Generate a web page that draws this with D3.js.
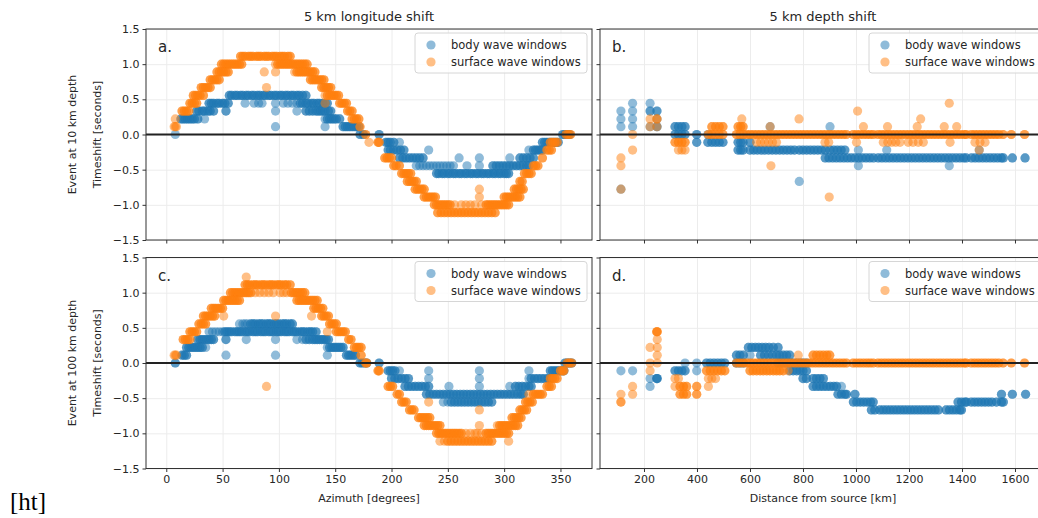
<!DOCTYPE html>
<html lang="en">
  <head>
    <meta charset="utf-8">
    <title></title>
    <script src="https://cdn.jsdelivr.net/npm/d3@7"></script>
    <style>
      body { margin:0; background:#fff; }
      text { font-family:"DejaVu Sans", sans-serif; fill:#262626; }
      .grid line { stroke:#ececec; stroke-width:1; }
      .grid path { display:none; }
      .axis path { display:none; }
      .axis line { stroke:#333; }
      .axis text { font-size:11px; fill:#262626; }
      .spine { fill:none; stroke:#333; stroke-width:1; }
    </style>
  </head>
  <body>
    <script>
      var W = 1038, H = 518;

      var azTicks = [0, 50, 100, 150, 200, 250, 300, 350];
      var kmTicks = [200, 400, 600, 800, 1000, 1200, 1400, 1600];
      var shiftTicks = [-1.5, -1.0, -0.5, 0, 0.5, 1.0, 1.5];
      var seriesNames = ["body wave windows", "surface wave windows"];
      var colors = ["#1f77b4", "#ff7f0e"];
      var colTitles = ["5 km longitude shift", "5 km depth shift"];
      var rowLabels = ["Event at 10 km depth", "Event at 100 km depth"];
      var xLabels = ["Azimuth [degrees]", "Distance from source [km]"];
      var panelLetters = ["a.", "b.", "c.", "d."];

      // each entry: [timeshift, [x of stations], windows per station (default 1)]
      var bodyA = [
        [0.556, [56,58,61,63,66,68,71,73,76,78,81,83,86,88,91,93,96,98,101,103,106,108,111,113,116,118,121,124], 2],
        [0.444, [38,40,42,45,47,50,52,55], 2],
        [0.444, [70,78,82,85,97,104,108,112,116]],
        [0.444, [119,121,124,126,129,131,134,136,139,141,143], 2],
        [0.333, [27,29,32,34,37,39,42,53], 2],
        [0.333, [97,116]],
        [0.333, [124,127,130,133,135,137,139,141,144,146], 2],
        [0.222, [13,15,17,19,21,23,25,28], 2],
        [0.222, [34,141]],
        [0.222, [143,145,147,149,151,154], 2],
        [0.111, [97,141]],
        [0.111, [157,159,161,163,165,167,169,171], 2],
        [0, [8]],
        [0, [172,175,189,352,354,356,358], 2],
        [-0.111, [195,197,199,202], 2],
        [-0.111, [207]],
        [-0.111, [334,336,338,340,342,344,346,348], 2],
        [-0.222, [197,199,202,205,208,211], 2],
        [-0.222, [233,322]],
        [-0.222, [326,328,330,332,334], 2],
        [-0.333, [207,210,213,216,219,222,225,228], 2],
        [-0.333, [260,278,305]],
        [-0.333, [314,317,320,323,326], 2],
        [-0.444, [222,225,228,231,234,237,240,243,246,249,252,255,267,278]],
        [-0.444, [290,293,296,299,302,305,308,311,314,317,320,322], 2],
        [-0.556, [240,242,245,247,250,252,255,257,260,262,265,267,270,272,275,277,280,282,285,287,290,292,295,297,300,302,304], 2]
      ];
      var surfA = [
        [1.111, [66,68,70,73,75,77,80,82,84,87,89,91,94,96,98,101,103,105,108,110], 2],
        [1.0, [49,51,53,55,57,59,61,63,65,67], 2],
        [1.0, [97]],
        [1.0, [99,101,103,105,107,109,111,113,115,117,119,121,123,125], 2],
        [0.889, [45,47,49,51,53,55], 2],
        [0.889, [87,97,114]],
        [0.889, [116,118,120,122,124,126,128,130,132], 2],
        [0.778, [39,41,43,45,47,128,130,132,134,136,138,140], 2],
        [0.667, [31,33,35,37,39,138,140,142,144,146], 2],
        [0.667, [89]],
        [0.556, [24,26,28,30,33,143,145,147,149,151,153], 2],
        [0.556, [141]],
        [0.444, [21,23,25,27,154,156,158,160], 2],
        [0.444, [141]],
        [0.333, [14,16,18,20,161,163,165], 2],
        [0.222, [8]],
        [0.222, [165,167,169,171], 2],
        [0.111, [7,8,9]],
        [0.111, [172], 2],
        [0, [177,355,357,359], 2],
        [-0.111, [180]],
        [-0.111, [188,189,341,343,345,347], 2],
        [-0.222, [338,340,342], 2],
        [-0.333, [194,196,198,200,334], 2],
        [-0.444, [202,204,207,326,328,330], 2],
        [-0.556, [209,211,213,215,217,318,320,322,324], 2],
        [-0.667, [214,216,218,220,222,314,316], 2],
        [-0.778, [221,223,225,227,229,309,311,313,315,317], 2],
        [-0.778, [278]],
        [-0.889, [229,231,233,235,237,239,300,302,304,306,308,310,312,314], 2],
        [-0.889, [278]],
        [-1.0, [238,240,242,244,246,248,250,252], 2],
        [-1.0, [256,262,266,270,274,280]],
        [-1.0, [284,286,288,290,292,294,296,298,300,302,304], 2],
        [-1.111, [241,244,247,250,253,256,259,262,265,268,271,274,277,280,283,286,289,292], 2]
      ];

      var bodyB = [
        [0.444, [157,223]],
        [0.333, [113,157]],
        [0.333, [223,249], 2],
        [0.222, [113,157,249]],
        [0.111, [113,157,223,676,902]],
        [0.111, [249,317,330,343,355], 2],
        [0, [317,330,343,355,399], 2],
        [0, [441]],
        [-0.111, [399,441,456,470,484,498,555,565,574,600], 2],
        [-0.222, [555,565,574,600,614,628,642,656,670,684,698,712,726,740,754,768,786,800,814,828,842,856,870,884,902,916,930,944,958], 2],
        [-0.222, [1009,1116,1465]],
        [-0.333, [884,898,912,926,940,954,968,982,996,1010,1024,1038,1052,1066,1084,1098,1112,1126,1140,1154,1168,1182,1196,1210,1224,1238,1252,1266,1280,1294,1308,1322,1336,1350,1364,1378,1392,1406,1416,1436,1450,1464,1478,1492,1506,1520,1534,1548,1556,1590,1638], 2],
        [-0.444, [1009,1352]],
        [-0.667, [786]],
        [-0.778, [113]]
      ];
      var surfB = [
        [0.444, [1352]],
        [0.333, [1006]],
        [0.222, [223,569,785,1244]],
        [0.222, [249], 2],
        [0.111, [223,249,676,1028,1119,1231,1333,1380]],
        [0.111, [456,470,484,498,555,565,574], 2],
        [0, [157]],
        [0, [443,456,470,484,498,549,562,575,588,601,614,627,640,653,666,679,692,705,718,731,744,757,770,783,796,809,822,835,848,861,874,887,900,913,926,939,952,964,989,1002,1015,1028,1041,1053,1065,1083,1096,1109,1122,1135,1148,1161,1174,1187,1200,1213,1226,1239,1252,1265,1278,1291,1304,1317,1330,1343,1356,1369,1382,1395,1408,1416,1435,1448,1461,1474,1487,1500,1513,1526,1539,1555,1586,1636], 2],
        [-0.111, [317,330,343,355], 2],
        [-0.111, [625,640,655,670,685,700,883,897,1002,1103,1120,1135,1150,1166,1197,1215,1235,1254,1355,1449,1468,1487]],
        [-0.222, [157,330,343,355,1465]],
        [-0.333, [113]],
        [-0.444, [113,679]],
        [-0.778, [113]],
        [-0.889, [899]]
      ];

      var bodyC = [
        [0.556, [65,68,70,72]],
        [0.556, [75,77,79,82,84,86,89,91,93,96,98,100,103,105,107,110,112], 2],
        [0.444, [38,41,44,47,50]],
        [0.444, [52,54,56,58,61,63,65,67,70,72,74,77,79,81,84,86,88,91,93,95,98,100,102,105,107,109,112,114,116,119,121,123,126,128,130,133], 2],
        [0.333, [28,30,32,34,36,38,40,42,53], 2],
        [0.333, [71,97,116,121]],
        [0.333, [124,127,130,132,134,136,138,140,142,144], 2],
        [0.222, [18,20,22,24,26,28,30,32], 2],
        [0.222, [35,143]],
        [0.222, [145,147,149,151,153,155,157], 2],
        [0.111, [14,16,18], 2],
        [0.111, [53,97,143]],
        [0.111, [160,162,164,166,168], 2],
        [0, [8,172,174,176,178,189,354,356,358,360], 2],
        [-0.111, [197,199,201,203], 2],
        [-0.111, [207,233,278,322]],
        [-0.111, [341,343,345,347,349,351,353], 2],
        [-0.222, [200,203,206,209,212,215], 2],
        [-0.222, [233,278,322]],
        [-0.222, [324,327,330,333,336,339,341], 2],
        [-0.333, [212,215,218,221,224,227,230,233], 2],
        [-0.333, [251,278,305]],
        [-0.333, [310,313,316,319,322,324], 2],
        [-0.444, [231,234,237,240,243,246,249,252,255,258,261,264,267,270,273,276,279,282,285,288,291,294,297,300,303,306,309,312,315,317], 2],
        [-0.556, [246,250]],
        [-0.556, [253,256,259,262,265,268,271,274,277,280,283,286,289], 2]
      ];
      var surfC = [
        [1.222, [71]],
        [1.111, [70,72,74,77,79,81,84,86,88,91,93,95,98,100,102,105,107,110], 2],
        [1.0, [57,59,61,63,65,67,69,71,73,75], 2],
        [1.0, [79,83,87,91,95,101,104,107]],
        [1.0, [111,113,115,117,119,121,123], 2],
        [0.889, [51,53,55,57,59,61,63,65,116,118,120,122,124,126,128,130,132,134], 2],
        [0.778, [40,42,44,46,48,50,131,133,135,137,139], 2],
        [0.667, [33,35,37,39,41,43,138,140,142,144], 2],
        [0.667, [51,97,129]],
        [0.556, [29,31,33,35,145,147,149,151], 2],
        [0.444, [21,23,25,27,151,153,155,157,159], 2],
        [0.444, [143]],
        [0.333, [15,17,19,21,162,164], 2],
        [0.222, [167,169,171,173], 2],
        [0.111, [7,8,9]],
        [0.111, [173], 2],
        [0, [177,178,356,358,360], 2],
        [-0.111, [188,189,350,352,353], 2],
        [-0.222, [341,343,345,347], 2],
        [-0.333, [89]],
        [-0.333, [197,199,201,338,340,342], 2],
        [-0.444, [205,207,326,328,330,332,334], 2],
        [-0.444, [322]],
        [-0.556, [209,211,213,319,321,323,325], 2],
        [-0.556, [233]],
        [-0.667, [216,218,220,314,316,318,320], 2],
        [-0.667, [278]],
        [-0.778, [224,226,228,230,232,234,307,309,311,313,315], 2],
        [-0.889, [229,231,233,235,237,239,241,243,296,298,300,302,304,306,308,310,312], 2],
        [-0.889, [278,294]],
        [-1.0, [240,242,244,246,248,250,252,254,256,258,260,262], 2],
        [-1.0, [266,270,274,276,280]],
        [-1.0, [284,286,288,290,292,294,296,298,300,302,304], 2],
        [-1.111, [243,247,304]],
        [-1.111, [250,253,256,259,262,265,268,271,274,277,280,283,286,289], 2]
      ];

      var bodyD = [
        [0.222, [594,607,620,633,646,659,672,688,706], 2],
        [0.111, [549,562,575,640,655,670,685,700,712,725,738,750], 2],
        [0.111, [600]],
        [0, [355,399]],
        [0, [436,450,464,478,492,505,549,562,575,706,719,732,750,763,776,789,800,813], 2],
        [-0.111, [113,157,399]],
        [-0.111, [317,330,343,355,750,763,776,789,800,813], 2],
        [-0.222, [223]],
        [-0.222, [248,250,800,813,838,851,864,877], 2],
        [-0.333, [223,945]],
        [-0.333, [838,851,864,877,890,903,916,927], 2],
        [-0.444, [932,945,958,964,996,1549,1590,1640], 2],
        [-0.556, [990,1003,1016,1029,1042,1055,1065,1385,1398,1411,1417,1435,1448,1461,1474,1487,1500,1513,1530,1549,1556], 2],
        [-0.667, [1058,1071,1090,1103,1116,1129,1142,1155,1168,1181,1194,1207,1220,1233,1246,1259,1272,1285,1298,1311,1340,1353,1366,1379,1392,1398], 2]
      ];
      var surfD = [
        [0.444, [248,250], 2],
        [0.333, [250]],
        [0.222, [223,250]],
        [0.111, [250,782]],
        [0.111, [838,851,864,877,890,901], 2],
        [0, [223,250]],
        [0, [549,562,575,588,601,614,627,640,653,666,679,692,705,718,731,744,757,770,783,796,809,822,835,848,861,874,887,900,913,926,939,952,964,989,1002,1015,1028,1041,1053,1065,1083,1096,1109,1122,1135,1148,1161,1174,1187,1200,1213,1226,1239,1252,1265,1278,1291,1304,1317,1330,1343,1356,1369,1382,1395,1408,1416,1435,1448,1461,1474,1487,1500,1513,1526,1539,1555,1586,1636], 2],
        [-0.111, [223,744]],
        [-0.111, [436,450,464,478,492,505,600,612,625,638,650,663,675,688,700,712,725], 2],
        [-0.222, [317,330,443,456,470]],
        [-0.333, [157,317,443]],
        [-0.333, [336,349,361,399], 2],
        [-0.444, [113,157]],
        [-0.444, [336,349,361,399], 2],
        [-0.556, [113], 2]
      ];

      function flatten(groups) {
        var out = [];
        groups.forEach(function (g) {
          var n = g[2] || 1;
          g[1].forEach(function (x) {
            for (var k = 0; k < n; k++) out.push({x: x, y: g[0]});
          });
        });
        return out;
      }

      var pw = 446, ph = 211;
      var colX = [146, 600];
      var rowY = [29, 257.5];
      var xDomains = [[-18, 378], [34, 1717]];
      var xTicksByCol = [azTicks, kmTicks];

      var panels = [
        {row: 0, col: 0, data: [bodyA, surfA]},
        {row: 0, col: 1, data: [bodyB, surfB]},
        {row: 1, col: 0, data: [bodyC, surfC]},
        {row: 1, col: 1, data: [bodyD, surfD]}
      ];

      var svg = d3.select("body")
                  .append("svg")
                  .attr("width", W)
                  .attr("height", H);

      panels.forEach(function (p, i) {
        var g = svg.append("g")
                   .attr("transform", "translate(" + colX[p.col] + "," + rowY[p.row] + ")");

        var xScale = d3.scaleLinear().domain(xDomains[p.col]).range([0, pw]);
        var yScale = d3.scaleLinear().domain([-1.5, 1.5]).range([ph, 0]);

        g.append("clipPath")
         .attr("id", "clip" + i)
         .append("rect")
         .attr("width", pw)
         .attr("height", ph);

        // grid
        g.append("g")
         .attr("class", "grid")
         .attr("transform", "translate(0," + ph + ")")
         .call(d3.axisBottom(xScale).tickValues(xTicksByCol[p.col]).tickSize(-ph).tickFormat(""));
        g.append("g")
         .attr("class", "grid")
         .call(d3.axisLeft(yScale).tickValues(shiftTicks).tickSize(-pw).tickFormat(""));

        // points
        var pts = g.append("g").attr("clip-path", "url(#clip" + i + ")");
        p.data.forEach(function (series, s) {
          pts.append("g")
             .selectAll("circle")
             .data(flatten(series))
             .join("circle")
             .attr("cx", function (d) { return xScale(d.x); })
             .attr("cy", function (d) { return yScale(d.y); })
             .attr("r", 4.6)
             .attr("fill", colors[s])
             .attr("fill-opacity", 0.5);
        });

        // zero line
        g.append("line")
         .attr("x1", 0)
         .attr("x2", pw)
         .attr("y1", yScale(0))
         .attr("y2", yScale(0))
         .attr("stroke", "#222")
         .attr("stroke-width", 1.8);

        // axes
        var xAxis = d3.axisBottom(xScale).tickValues(xTicksByCol[p.col]).tickSize(3.5).tickPadding(3).tickFormat(d3.format("d"));
        if (p.row == 0) xAxis.tickFormat("");
        g.append("g")
         .attr("class", "axis")
         .attr("transform", "translate(0," + ph + ")")
         .call(xAxis);

        var yAxis = d3.axisLeft(yScale).tickValues(shiftTicks).tickSize(3.5).tickPadding(3).tickFormat(d3.format(".1f"));
        if (p.col == 1) yAxis.tickFormat("");
        g.append("g")
         .attr("class", "axis")
         .call(yAxis);

        g.append("rect")
         .attr("class", "spine")
         .attr("width", pw)
         .attr("height", ph);

        // panel letter
        g.append("text")
         .attr("x", 12)
         .attr("y", 23)
         .style("font-size", "15px")
         .text(panelLetters[i]);

        // legend
        var lg = g.append("g")
                  .attr("transform", "translate(" + (pw - 177) + ",4)");
        lg.append("rect")
          .attr("width", 172)
          .attr("height", 40)
          .attr("rx", 3)
          .attr("fill", "#fff")
          .attr("fill-opacity", 0.8)
          .attr("stroke", "#d6d6d6");
        seriesNames.forEach(function (name, s) {
          lg.append("circle")
            .attr("cx", 16)
            .attr("cy", 12 + s * 17)
            .attr("r", 4.6)
            .attr("fill", colors[s])
            .attr("fill-opacity", 0.5);
          lg.append("text")
            .attr("x", 36)
            .attr("y", 12 + s * 17)
            .attr("dy", "0.35em")
            .style("font-size", "11.5px")
            .text(name);
        });

        if (p.row == 0) {
          g.append("text")
           .attr("x", pw / 2)
           .attr("y", -8)
           .attr("text-anchor", "middle")
           .style("font-size", "13px")
           .text(colTitles[p.col]);
        } else {
          g.append("text")
           .attr("x", pw / 2)
           .attr("y", ph + 33)
           .attr("text-anchor", "middle")
           .style("font-size", "11px")
           .text(xLabels[p.col]);
        }

        if (p.col == 0) {
          g.append("text")
           .attr("transform", "translate(-74," + (ph / 2) + ") rotate(-90)")
           .attr("text-anchor", "middle")
           .attr("dy", "0.35em")
           .style("font-size", "11px")
           .text(rowLabels[p.row]);
          g.append("text")
           .attr("transform", "translate(-49," + (ph / 2) + ") rotate(-90)")
           .attr("text-anchor", "middle")
           .attr("dy", "0.35em")
           .style("font-size", "11px")
           .text("Timeshift [seconds]");
        }
      });

      svg.append("text")
         .attr("x", 10)
         .attr("y", 510)
         .style("font-family", "'Liberation Serif', serif")
         .style("font-size", "25px")
         .style("fill", "#000")
         .text("[ht]");
    </script>
  </body>
</html>
